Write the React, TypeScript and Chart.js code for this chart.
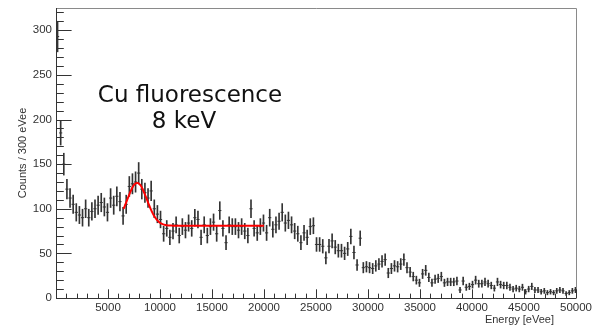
import { useEffect, useRef } from 'react';
import { Chart, registerables } from 'chart.js';

Chart.register(...registerables);

// Histogram: counts per 300 eVee bin, starting at 0 eVee
const BIN_WIDTH = 300;
const counts = [
  293, 185, 150, 122, 112, 105, 96, 93, 90, 100,
  90, 97, 100, 104, 107, 102, 96, 112, 104, 114,
  108, 92, 105, 125, 128, 130, 140, 122, 118, 112,
  120, 100, 94, 88, 72, 78, 68, 75, 82, 70,
  80, 76, 84, 78, 90, 88, 68, 82, 70, 80,
  85, 72, 98, 78, 62, 82, 80, 80, 76, 80,
  75, 70, 100, 78, 73, 80, 84, 73, 90, 77,
  82, 86, 96, 84, 87, 82, 75, 72, 62, 73,
  68, 80, 81, 60, 60, 58, 45, 58, 64, 57,
  53, 53, 50, 55, 69, 51, 37, 67, 34, 35,
  34, 33, 36, 38, 41, 43, 28, 33, 36, 35,
  38, 43, 34, 29, 24, 20, 17, 27, 31, 23,
  17, 21, 22, 24, 17, 18, 18, 18, 19, 9,
  19, 12, 13, 15, 20, 16, 16, 18, 16, 14,
  11, 18, 15, 14, 14, 12, 10, 11, 10, 12,
  7, 10, 13, 9, 9, 7, 8, 6, 7, 6,
  8, 9, 8, 5, 6, 8, 9,
];

// Fit curve (gaussian + flat background)
const fitX = [6500, 6700, 6900, 7100, 7300, 7500, 7700, 7800, 7900, 8100, 8300, 8500, 8700, 8900, 9100, 9300, 9500, 9700, 9900, 10100, 10300, 10500, 10800, 11200, 12000, 20000];
const fitY = [99.8, 105.6, 111.6, 117.6, 122.8, 126.7, 128.7, 129, 128.7, 126.7, 122.8, 117.6, 111.6, 105.6, 99.8, 94.8, 90.7, 87.5, 85.2, 83.6, 82.5, 81.8, 81.3, 81.1, 81, 81];

// Axis ticks
const xMajorTicks = [5000, 10000, 15000, 20000, 25000, 30000, 35000, 40000, 45000, 50000];
const yMajorTicks = [0, 50, 100, 150, 200, 250, 300];
const X_MIN = 0, X_MAX = 50000, Y_MIN = 0, Y_MAX = 325;
const X_MINOR_STEP = 1000, Y_MINOR_STEP = 10;

const xTitle = 'Energy [eVee]';
const yTitle = 'Counts / 300 eVee';
const noteLines = ['Cu fluorescence', '8 keV'];

const rootAxes = {
  id: 'rootAxes',
  afterDraw(chart: any) {
    const { ctx, chartArea: a, scales } = chart;
    const x = scales.x, y = scales.y;
    const w = a.right - a.left, h = a.bottom - a.top;
    ctx.save();
    ctx.lineWidth = 1;
    // frame
    ctx.strokeStyle = '#8a8a8a';
    ctx.beginPath();
    ctx.moveTo(a.left, a.top + 0.5);
    ctx.lineTo(a.right + 0.5, a.top + 0.5);
    ctx.lineTo(a.right + 0.5, a.bottom);
    ctx.stroke();
    ctx.strokeStyle = '#333';
    ctx.beginPath();
    ctx.moveTo(a.left + 0.5, a.top);
    ctx.lineTo(a.left + 0.5, a.bottom + 0.5);
    ctx.lineTo(a.right + 0.5, a.bottom + 0.5);
    ctx.stroke();

    const yMaj = w * 0.03, yMin = yMaj / 2;
    const xMaj = h * 0.03, xMin = xMaj / 2;
    ctx.beginPath();
    for (let v = Y_MIN; v <= Y_MAX; v += Y_MINOR_STEP) {
      const py = Math.round(y.getPixelForValue(v)) + 0.5;
      const len = yMajorTicks.includes(v) ? yMaj : yMin;
      ctx.moveTo(a.left, py);
      ctx.lineTo(a.left + len, py);
    }
    for (let v = X_MIN + X_MINOR_STEP; v <= X_MAX; v += X_MINOR_STEP) {
      const px = Math.round(x.getPixelForValue(v)) + 0.5;
      const len = xMajorTicks.includes(v) ? xMaj : xMin;
      ctx.moveTo(px, a.bottom);
      ctx.lineTo(px, a.bottom - len);
    }
    ctx.stroke();

    ctx.fillStyle = '#333';
    ctx.font = '11.5px "Liberation Sans", Arial, sans-serif';
    ctx.textAlign = 'right';
    ctx.textBaseline = 'middle';
    yMajorTicks.forEach((v) => {
      ctx.fillText(String(v), a.left - 4, y.getPixelForValue(v));
    });
    ctx.textAlign = 'center';
    ctx.textBaseline = 'top';
    xMajorTicks.forEach((v) => {
      ctx.fillText(String(v), x.getPixelForValue(v), a.bottom + 4);
    });

    ctx.font = '11px "Liberation Sans", Arial, sans-serif';
    ctx.textAlign = 'right';
    ctx.textBaseline = 'alphabetic';
    ctx.fillText(xTitle, a.right - 22, a.bottom + 25);

    ctx.save();
    ctx.font = '11px "Liberation Sans", Arial, sans-serif';
    ctx.translate(26, (a.top + a.bottom) / 2);
    ctx.rotate(-Math.PI / 2);
    ctx.textAlign = 'center';
    ctx.textBaseline = 'alphabetic';
    ctx.fillText(yTitle, 0, 0);
    ctx.restore();

    ctx.fillStyle = '#111';
    ctx.font = '23px "DejaVu Sans", sans-serif';
    ctx.textAlign = 'center';
    ctx.textBaseline = 'alphabetic';
    ctx.fillText(noteLines[0], 190, 102);
    ctx.fillText(noteLines[1], 184, 128);
    ctx.restore();
  },
};

export default function App() {
  const ref = useRef<HTMLCanvasElement>(null);
  useEffect(() => {
    document.body.style.margin = '0';
    const centers = counts.map((_, i) => i * BIN_WIDTH + BIN_WIDTH / 2);
    const errBars = counts.map((c, i) => ({ x: centers[i], y: [c - Math.sqrt(c), c + Math.sqrt(c)] }));
    const marks = counts.map((c, i) => ({ x: centers[i], y: c }));
    const fit = fitX.map((v, i) => ({ x: v, y: fitY[i] }));
    const chart = new Chart(ref.current as HTMLCanvasElement, {
      type: 'scatter',
      data: {
        datasets: [
          {
            type: 'line',
            data: fit,
            borderColor: '#ff0000',
            borderWidth: 2,
            pointRadius: 0,
            fill: false,
            cubicInterpolationMode: 'monotone',
            order: 0,
          } as any,
          {
            type: 'bar',
            data: errBars,
            backgroundColor: '#333',
            borderWidth: 0,
            barThickness: 1,
            grouped: false,
            order: 2,
          } as any,
          {
            type: 'scatter',
            data: marks,
            pointStyle: 'line',
            pointRadius: 1.6,
            pointHoverRadius: 1.6,
            borderColor: '#333',
            borderWidth: 1,
            showLine: false,
            order: 1,
          } as any,
        ],
      },
      options: {
        animation: false,
        responsive: false,
        layout: { padding: { left: 56, right: 18, top: 8, bottom: 27 } },
        plugins: { legend: { display: false }, tooltip: { enabled: false } },
        scales: {
          x: { type: 'linear', min: X_MIN, max: X_MAX, display: false, offset: false },
          y: { type: 'linear', min: Y_MIN, max: Y_MAX, display: false },
        },
      },
      plugins: [rootAxes],
    });
    return () => chart.destroy();
  }, []);
  return (
    <div style={{ position: 'absolute', left: 0, top: 0, width: 594, height: 325, background: '#fff' }}>
      <canvas ref={ref} width={594} height={325} style={{ width: 594, height: 325, display: 'block' }} />
    </div>
  );
}
